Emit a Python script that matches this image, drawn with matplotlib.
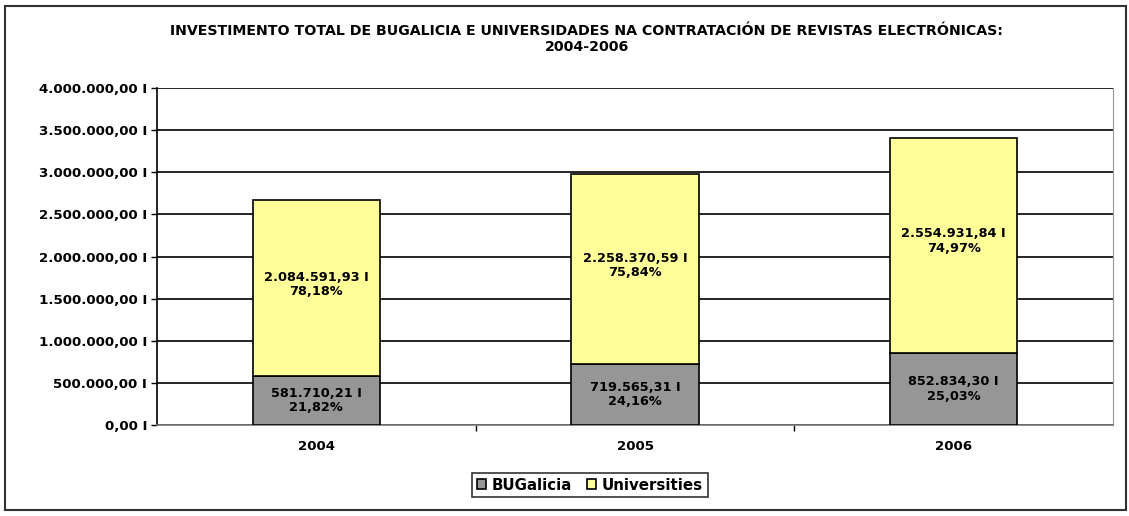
import matplotlib
matplotlib.use("Agg")
import matplotlib.pyplot as plt
from matplotlib.patches import Rectangle
import numpy as np

years = ["2004", "2005", "2006"]
bugalicia = [581710.21, 719565.31, 852834.30]
universities = [2084591.93, 2258370.59, 2554931.84]
bug_labels = ["581.710,21 I\n21,82%", "719.565,31 I\n24,16%", "852.834,30 I\n25,03%"]
uni_labels = ["2.084.591,93 I\n78,18%", "2.258.370,59 I\n75,84%", "2.554.931,84 I\n74,97%"]
yticks = [0, 500000, 1000000, 1500000, 2000000, 2500000, 3000000, 3500000, 4000000]
ytick_labels = ["0,00 I", "500.000,00 I", "1.000.000,00 I", "1.500.000,00 I", "2.000.000,00 I",
                "2.500.000,00 I", "3.000.000,00 I", "3.500.000,00 I", "4.000.000,00 I"]
title = "INVESTIMENTO TOTAL DE BUGALICIA E UNIVERSIDADES NA CONTRATACIÓN DE REVISTAS ELECTRÓNICAS:\n2004-2006"

W, H = 1129, 516
fig = plt.figure(figsize=(W / 100, H / 100), dpi=100)
fig.patch.set_facecolor("white")
fig.patches.append(Rectangle((5 / W, 6 / H), 1121 / W, 504 / H, transform=fig.transFigure,
                             fill=False, edgecolor="#333333", linewidth=1.5))

left, right, top, bottom = 157, 1113, 88, 425
ax = fig.add_axes([left / W, 1 - bottom / H, (right - left) / W, (bottom - top) / H])

x = np.arange(len(years))
gray = "#969696"
yellow = "#FFFF99"
ax.bar(x, bugalicia, width=0.4, color=gray, edgecolor="black", linewidth=1.2, zorder=3, label="BUGalicia")
ax.bar(x, universities, width=0.4, bottom=bugalicia, color=yellow, edgecolor="black", linewidth=1.2,
       zorder=3, label="Universities")

fs = 9.3
for i in range(len(years)):
    ax.text(x[i], bugalicia[i] / 2, bug_labels[i], ha="center", va="center", fontsize=fs,
            fontweight="bold", zorder=4, linespacing=1.15)
    ax.text(x[i], bugalicia[i] + universities[i] * 0.52, uni_labels[i], ha="center", va="center",
            fontsize=fs, fontweight="bold", zorder=4, linespacing=1.15)

ax.set_xlim(-0.5, 2.5)
ax.set_ylim(0, 4000000)
ax.set_yticks(yticks)
ax.set_yticklabels(ytick_labels, fontsize=9.6, fontweight="bold")
ax.set_xticks(x)
ax.set_xticklabels(years, fontsize=9.6, fontweight="bold")
ax.tick_params(axis="x", length=0, pad=11)
ax.set_xticks([0.5, 1.5], minor=True)
ax.tick_params(axis="x", which="minor", length=4, width=1, direction="out")
ax.tick_params(axis="y", length=4, width=1, direction="out", pad=3)
ax.yaxis.grid(True, color="black", linewidth=1.2, zorder=0)
ax.set_axisbelow(True)
ax.spines["top"].set_visible(False)
ax.spines["right"].set_color("#999999")
ax.spines["left"].set_linewidth(1.2)
ax.spines["bottom"].set_linewidth(1.2)
ax.spines["bottom"].set_color("#777777")

fig.text(587 / W, 1 - 39 / H, title, ha="center", va="center", fontsize=10.2, fontweight="bold",
         linespacing=1.2)

leg = fig.legend(loc="center", bbox_to_anchor=(590 / W, 1 - 485 / H), ncol=2, frameon=True,
                 fancybox=False, edgecolor="black", prop={"weight": "bold", "size": 10.8},
                 handlelength=0.6, handleheight=0.6, handletextpad=0.4, columnspacing=1.0,
                 borderpad=0.3)
leg.get_frame().set_linewidth(1.2)

fig.savefig("out.png", dpi=100)
